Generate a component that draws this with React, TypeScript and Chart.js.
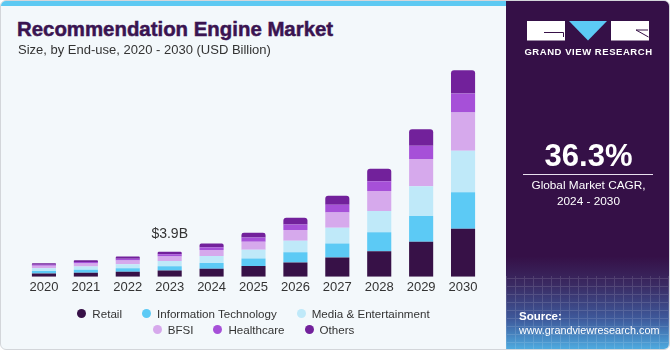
import React, { useEffect, useRef } from "react";
import { Chart, registerables } from "chart.js";

Chart.register(...registerables);

const years = ["2020", "2021", "2022", "2023", "2024", "2025", "2026", "2027", "2028", "2029", "2030"];
const retail = [0.51, 0.62, 0.76, 0.95, 1.23, 1.65, 2.22, 2.98, 3.95, 5.45, 7.49];
const infoTech = [0.37, 0.46, 0.56, 0.69, 0.92, 1.18, 1.58, 2.2, 2.97, 4.0, 5.69];
const media = [0.43, 0.53, 0.64, 0.8, 1.08, 1.38, 1.8, 2.46, 3.33, 4.66, 6.46];
const bfsi = [0.38, 0.46, 0.56, 0.7, 0.92, 1.23, 1.69, 2.36, 3.13, 4.26, 5.95];
const healthcare = [0.19, 0.23, 0.28, 0.35, 0.46, 0.66, 0.86, 1.23, 1.49, 2.05, 2.97];
const others = [0.22, 0.27, 0.34, 0.41, 0.57, 0.77, 1.03, 1.38, 1.95, 2.57, 3.65];

const seriesNames = ["Retail", "Information Technology", "Media & Entertainment", "BFSI", "Healthcare", "Others"];
const seriesColors = ["#371147", "#5ccaf5", "#bfe9f9", "#d6a9ec", "#a650d8", "#72219b"];
const seriesData = [retail, infoTech, media, bfsi, healthcare, others];

const annotationIndex = 3;
const annotationText = "$3.9B";
const yMax = 34;

const FONT = "'Liberation Sans', Arial, sans-serif";

const annotationPlugin = {
  id: "valueAnnotation",
  afterDatasetsDraw(chart: any) {
    const { ctx, scales } = chart;
    let total = 0;
    seriesData.forEach((arr) => (total += arr[annotationIndex]));
    const x = scales.x.getPixelForValue(annotationIndex);
    const y = scales.y.getPixelForValue(total);
    ctx.save();
    ctx.font = `14px ${FONT}`;
    ctx.fillStyle = "#333333";
    ctx.textAlign = "center";
    ctx.textBaseline = "middle";
    ctx.fillText(annotationText, x, y - 17.5);
    ctx.restore();
  },
};

function BarChart() {
  const ref = useRef<HTMLCanvasElement | null>(null);
  useEffect(() => {
    if (!ref.current) return;
    const chart = new Chart(ref.current, {
      type: "bar",
      data: {
        labels: years,
        datasets: seriesNames.map((name, i) => ({
          label: name,
          data: seriesData[i],
          backgroundColor: seriesColors[i],
          borderWidth: 0,
          borderRadius: 3,
          barPercentage: 0.575,
          categoryPercentage: 1,
        })),
      },
      options: {
        animation: false,
        responsive: true,
        maintainAspectRatio: false,
        layout: { padding: { left: 22, right: 22, top: 57.7, bottom: 2.7 } },
        plugins: { legend: { display: false }, tooltip: { enabled: false } },
        scales: {
          x: {
            stacked: true,
            grid: { display: false, drawTicks: false },
            border: { display: false },
            ticks: { color: "#333333", padding: 3, font: { size: 13, family: FONT } },
          },
          y: {
            stacked: true,
            display: false,
            min: 0,
            max: yMax,
          },
        },
      },
      plugins: [annotationPlugin],
    });
    return () => chart.destroy();
  }, []);
  return (
    <div style={{ position: "absolute", left: 0, top: 0, width: 505, height: 300 }}>
      <canvas ref={ref} />
    </div>
  );
}

function Legend() {
  const rows = [
    [0, 1, 2],
    [3, 4, 5],
  ];
  return (
    <div style={{ position: "absolute", left: 0, top: 304, width: 505 }}>
      {rows.map((row, ri) => (
        <div
          key={ri}
          style={{ display: "flex", justifyContent: "center", height: 16, alignItems: "center", gap: 20 }}
        >
          {row.map((i) => (
            <div key={i} style={{ display: "flex", alignItems: "center" }}>
              <span
                style={{
                  width: 9,
                  height: 9,
                  borderRadius: "50%",
                  background: seriesColors[i],
                  display: "inline-block",
                  marginRight: 6,
                }}
              />
              <span style={{ fontFamily: FONT, fontSize: 11.6, color: "#333", whiteSpace: "nowrap" }}>
                {seriesNames[i]}
              </span>
            </div>
          ))}
        </div>
      ))}
    </div>
  );
}

function Logo() {
  return (
    <svg width={122} height={20} style={{ position: "absolute", left: 526, top: 20 }} viewBox="0 0 122 20">
      <rect x={0} y={0} width={38} height={19.5} fill="#ffffff" />
      <path d="M17 11.5 H36.5 V16" stroke="#371147" strokeWidth={1} fill="none" />
      <polygon points="42,0 80,0 61,19.5" fill="#5ccaf5" />
      <rect x={84} y={0} width={38} height={19.5} fill="#ffffff" />
      <path d="M109 9 H121" stroke="#371147" strokeWidth={1} fill="none" />
      <path d="M109 9 L121.5 16" stroke="#371147" strokeWidth={1} fill="none" />
    </svg>
  );
}

export default function App() {
  return (
    <div
      style={{
        position: "fixed",
        left: 0,
        top: 0,
        width: 670,
        height: 350,
        boxSizing: "border-box",
        border: "1px solid #d3d6da",
        borderRadius: 6,
        overflow: "hidden",
        background: "#f3f8fb",
        fontFamily: FONT,
      }}
    >
      <div style={{ position: "absolute", left: 0, top: 0, width: 506, height: 5, background: "#5dc9f2" }} />
      <div
        style={{
          position: "absolute",
          left: 16,
          top: 16,
          fontSize: 20.4,
          fontWeight: 700,
          color: "#3a1451",
          whiteSpace: "nowrap",
          WebkitTextStroke: "0.5px #3a1451",
          lineHeight: "24px",
        }}
      >
        Recommendation Engine Market
      </div>
      <div
        style={{
          position: "absolute",
          left: 17,
          top: 41,
          fontSize: 13,
          color: "#333",
          whiteSpace: "nowrap",
          lineHeight: "16px",
        }}
      >
        Size, by End-use, 2020 - 2030 (USD Billion)
      </div>
      <BarChart />
      <Legend />
      <div
        style={{
          position: "absolute",
          left: 505,
          top: 0,
          width: 165,
          height: 350,
          background:
            "linear-gradient(to bottom, #351047 0%, #351047 73%, #3a2a62 81%, #3e5a9c 91%, #4fb0e4 100%)",
        }}
      >
        <div
          style={{
            position: "absolute",
            left: 0,
            top: 275,
            width: 165,
            height: 75,
            opacity: 0.12,
            backgroundImage:
              "repeating-linear-gradient(90deg, #ffffff 0px, #ffffff 1px, transparent 1px, transparent 9px), repeating-linear-gradient(0deg, #ffffff 0px, #ffffff 1px, transparent 1px, transparent 8px)",
          }}
        />
      </div>
      <Logo />
      <div
        style={{
          position: "absolute",
          left: 505,
          top: 44,
          width: 165,
          textAlign: "center",
          color: "#fff",
          fontSize: 9.5,
          fontWeight: 700,
          letterSpacing: 0.55,
          lineHeight: "14px",
        }}
      >
        GRAND VIEW RESEARCH
      </div>
      <div
        style={{
          position: "absolute",
          left: 505,
          top: 136,
          width: 165,
          textAlign: "center",
          color: "#fff",
          fontSize: 31,
          fontWeight: 700,
          lineHeight: "37px",
        }}
      >
        36.3%
      </div>
      <div style={{ position: "absolute", left: 522, top: 173, width: 130, height: 1, background: "#e8e0ee" }} />
      <div
        style={{
          position: "absolute",
          left: 505,
          top: 177,
          width: 165,
          textAlign: "center",
          color: "#fff",
          fontSize: 11.8,
          lineHeight: "15.5px",
        }}
      >
        Global Market CAGR,
        <br />
        2024 - 2030
      </div>
      <div
        style={{
          position: "absolute",
          left: 518,
          top: 308,
          color: "#fff",
          fontSize: 10.8,
          lineHeight: "14px",
          whiteSpace: "nowrap",
        }}
      >
        <div style={{ fontWeight: 700, fontSize: 11.5 }}>Source:</div>
        <div>www.grandviewresearch.com</div>
      </div>
    </div>
  );
}
